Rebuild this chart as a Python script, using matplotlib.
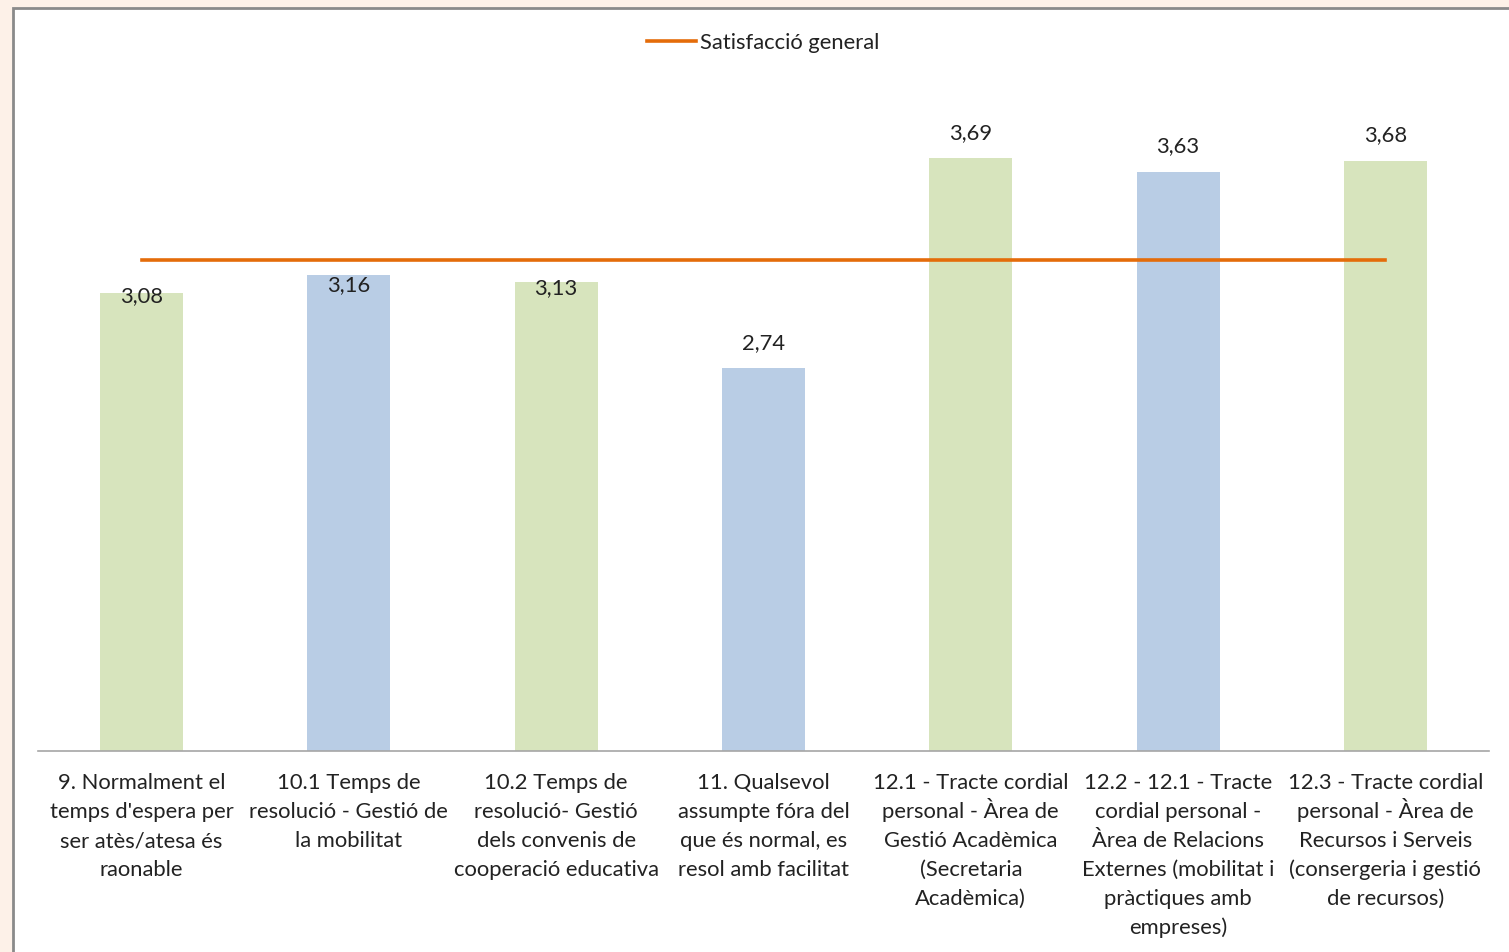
import matplotlib
matplotlib.use("Agg")
import matplotlib.pyplot as plt
import matplotlib.transforms as mtransforms
from matplotlib.patches import Rectangle

# data
categories = [
    "9. Normalment el\ntemps d'espera per\nser atès/atesa és\nraonable",
    "10.1 Temps de\nresolució - Gestió de\nla mobilitat",
    "10.2 Temps de\nresolució- Gestió\ndels convenis de\ncooperació educativa",
    "11. Qualsevol\nassumpte fóra del\nque és normal, es\nresol amb facilitat",
    "12.1 - Tracte cordial\npersonal - Àrea de\nGestió Acadèmica\n(Secretaria\nAcadèmica)",
    "12.2 - 12.1 - Tracte\ncordial personal -\nÀrea de Relacions\nExternes (mobilitat i\npràctiques amb\nempreses)",
    "12.3 - Tracte cordial\npersonal - Àrea de\nRecursos i Serveis\n(consergeria i gestió\nde recursos)",
]
values = [3.08, 3.16, 3.13, 2.74, 3.69, 3.63, 3.68]
general = [3.23] * 7
value_labels = ["3,08", "3,16", "3,13", "2,74", "3,69", "3,63", "3,68"]

# style
bar_colors = ["#D7E4BD", "#B9CDE5"] * 4
label_offsets = [-3, -10, -6, 25, 25, 25, 25]  # px above bar top
FS = 15.8
PX = 0.72  # points per pixel at dpi 100
plt.rcParams['font.family'] = ['Lato', 'DejaVu Sans']

fig = plt.figure(figsize=(15.09, 9.52), dpi=100)
fig.patch.set_facecolor("#FDF1E8")
# chart frame
fig.patches.append(Rectangle((13 / 1509, -0.1), 1.2, (952 - 8) / 952 + 0.1,
                             transform=fig.transFigure, facecolor="white",
                             edgecolor="#8a8a8a", linewidth=2, zorder=-10))

ax = fig.add_axes([38 / 1509, 201 / 952, 1451 / 1509, 661 / 952])
ax.set_facecolor("none")
x = list(range(len(categories)))
ax.bar(x, values, width=0.4, color=bar_colors[:len(values)], zorder=2)
ax.plot(x, general, color="#E46C0A", linewidth=2.6, label="Satisfacció general", zorder=3)

for xi, v, lab, off in zip(x, values, value_labels, label_offsets):
    ax.annotate(lab, (xi, v), xytext=(0, off * PX), textcoords="offset points",
                ha="center", va="center", fontsize=FS, color="#222222", zorder=4)

ax.set_xlim(-0.5, 6.5)
ax.set_ylim(1.0, 4.0)
ax.set_yticks([])
ax.set_xticks([])

# category labels, one text per line so the spacing stays even
trans = mtransforms.blended_transform_factory(ax.transData, ax.transAxes)
for xi, cat in zip(x, categories):
    for j, line in enumerate(cat.split("\n")):
        ax.annotate(line, (xi, 0), xycoords=trans,
                    xytext=(0, -(38 + 29 * j) * PX), textcoords="offset points",
                    ha="center", va="baseline", fontsize=FS, color="#222222",
                    annotation_clip=False)

for s in ["top", "right", "left"]:
    ax.spines[s].set_visible(False)
ax.spines["bottom"].set_color("#A6A6A6")
ax.spines["bottom"].set_linewidth(1.2)

leg = ax.legend(loc="center", bbox_to_anchor=(0.5, 1 + (90 - 43) / 661), frameon=False,
                fontsize=FS, handlelength=2.2, handletextpad=0.2)
for t in leg.get_texts():
    t.set_color("#222222")

fig.savefig("out.png", dpi=100, facecolor=fig.get_facecolor())
